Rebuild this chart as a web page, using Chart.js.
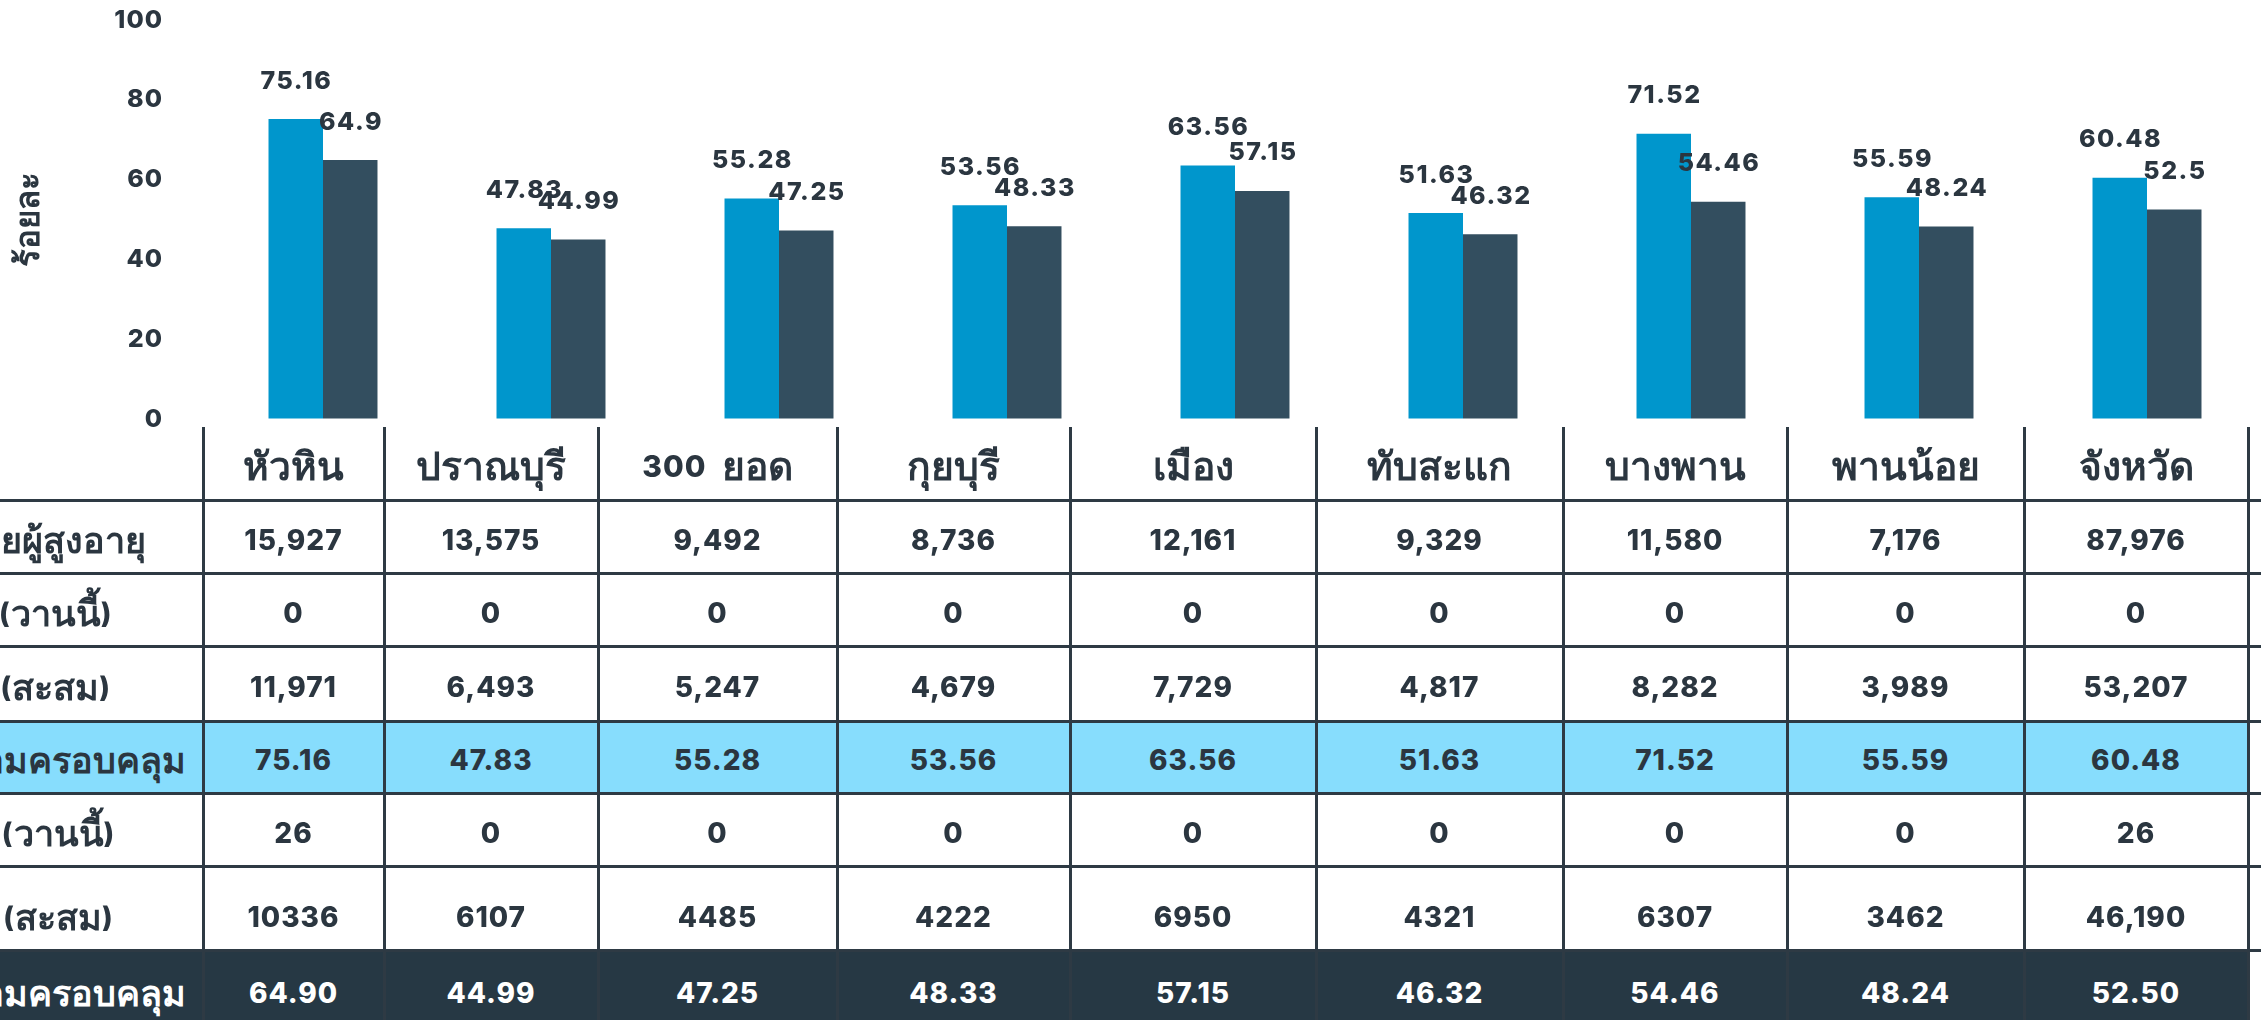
<!DOCTYPE html>
<html>
<head>
<meta charset="utf-8">
<script src="https://cdn.jsdelivr.net/npm/chart.js@4.4.1/dist/chart.umd.min.js"></script>
<style>
  html, body { margin: 0; padding: 0; background: #ffffff; width: 2261px; height: 1020px; overflow: hidden; position: relative; }
  #chartBox { position: absolute; left: 0; top: 0; width: 2261px; height: 434px; }
  #grid { position: absolute; left: 0; top: 0; width: 2261px; height: 1020px; pointer-events: none; }
  .cell { position: absolute; display: flex; align-items: center; justify-content: center; box-sizing: border-box;
          font-family: Inter, "Liberation Sans", sans-serif; font-weight: 800; font-size: 28px; letter-spacing: 1px;
          color: #2b3640; white-space: pre; line-height: 1; overflow: visible; }
  .th { font-size: 36px; letter-spacing: 0; font-weight: 700; }
  .cell.head { font-size: 30px; }
  .cell.head .th { font-size: 39px; }
  .vline { position: absolute; width: 3px; background: #2e3a44; }
  .hline { position: absolute; height: 3px; background: #2e3a44; }
</style>
</head>
<body>
<div id="chartBox"><canvas id="c" width="2261" height="434"></canvas></div>
<div id="grid"></div>
<script>
// Districts (also the table header)
const districts = ['หัวหิน', 'ปราณบุรี', '300  ยอด', 'กุยบุรี', 'เมือง', 'ทับสะแก', 'บางพาน', 'พานน้อย', 'จังหวัด'];

// Coverage percentages per district
const coverageDose1 = [75.16, 47.83, 55.28, 53.56, 63.56, 51.63, 71.52, 55.59, 60.48];
const coverageDose2 = [64.9, 44.99, 47.25, 48.33, 57.15, 46.32, 54.46, 48.24, 52.5];

// Y axis
const yTicks = [0, 20, 40, 60, 80, 100];
const yTitle = 'ร้อยละ';

// Table rows
const rowLabels = ['เป้าหมายผู้สูงอายุ', 'เข็ม 1 (วานนี้)', 'เข็ม 1 (สะสม)', 'ร้อยละความครอบคลุม',
                   'เข็ม 2 (วานนี้)', 'เข็ม 2 (สะสม)', 'ร้อยละความครอบคลุม'];
const targetElderly = ['15,927', '13,575', '9,492', '8,736', '12,161', '9,329', '11,580', '7,176', '87,976'];
const dose1Yesterday = ['0', '0', '0', '0', '0', '0', '0', '0', '0'];
const dose1Total = ['11,971', '6,493', '5,247', '4,679', '7,729', '4,817', '8,282', '3,989', '53,207'];
const dose2Yesterday = ['26', '0', '0', '0', '0', '0', '0', '0', '26'];
const dose2Total = ['10336', '6107', '4485', '4222', '6950', '4321', '6307', '3462', '46,190'];

const BLUE = '#0096cc';
const SLATE = '#334e5f';
const INK = '#2b3640';
const NUM_FONT = 'Inter, "Liberation Sans", sans-serif';

// Value labels above each bar
const barValueLabels = {
  id: 'barValueLabels',
  afterDatasetsDraw(chart) {
    const ctx = chart.ctx;
    const spacing = 1.5;
    ctx.save();
    ctx.font = '800 25px ' + NUM_FONT;
    ctx.letterSpacing = spacing + 'px';
    ctx.fillStyle = INK;
    ctx.textAlign = 'center';
    ctx.textBaseline = 'middle';
    chart.data.datasets.forEach((ds, i) => {
      chart.getDatasetMeta(i).data.forEach((bar, j) => {
        ctx.fillText(String(ds.data[j]), bar.x + spacing / 2, bar.y - 38);
      });
    });
    ctx.restore();
  }
};

// Slightly tracked tick numbers on the value axis
const trackedTicks = {
  id: 'trackedTicks',
  beforeDraw(chart) {
    const s = chart.scales.y;
    if (!s || s._tracked) return;
    const draw = s.drawLabels;
    s.drawLabels = function (area) {
      const ctx = this.ctx;
      ctx.save();
      ctx.letterSpacing = '1px';
      draw.call(this, area);
      ctx.restore();
    };
    s._tracked = true;
  }
};

new Chart(document.getElementById('c'), {
  type: 'bar',
  data: {
    labels: districts,
    datasets: [
      { data: coverageDose1, backgroundColor: BLUE, categoryPercentage: 0.478, barPercentage: 1.0 },
      { data: coverageDose2, backgroundColor: SLATE, categoryPercentage: 0.478, barPercentage: 1.0 }
    ]
  },
  options: {
    responsive: false,
    animation: false,
    devicePixelRatio: 1,
    layout: { padding: { top: 20, bottom: 0, left: 0, right: 0 } },
    plugins: { legend: { display: false }, tooltip: { enabled: false } },
    scales: {
      x: { display: false },
      y: {
        min: 0, max: 100,
        afterBuildTicks(scale) { scale.ticks = yTicks.map(v => ({ value: v })); },
        afterFit(scale) { scale.width = 209; },
        // invisible tick marks keep the labels away from the bars
        grid: { display: true, drawOnChartArea: false, drawTicks: true, tickLength: 46, color: 'rgba(0,0,0,0)' },
        border: { display: false },
        ticks: { padding: 0, color: INK, font: { family: NUM_FONT, size: 25, weight: 800 } },
        title: { display: true, text: yTitle, color: INK, padding: { top: 9, bottom: 0 },
                 font: { family: NUM_FONT, size: 33, weight: 'bold' } }
      }
    }
  },
  plugins: [trackedTicks, barValueLabels]
});

// Summary table under the bars
(function buildTable() {
  const grid = document.getElementById('grid');
  const colEdges = [-180, 203, 384, 598, 837, 1070, 1316, 1563, 1787, 2024, 2248];
  const rowEdges = [427, 500, 573, 646, 721, 793.5, 866, 950.6, 1032];
  const rows = [
    targetElderly, dose1Yesterday, dose1Total,
    coverageDose1.map(v => v.toFixed(2)),
    dose2Yesterday, dose2Total,
    coverageDose2.map(v => v.toFixed(2))
  ];
  const rowBg = [null, null, null, '#87ddfd', null, null, '#263844'];
  const rowInk = [INK, INK, INK, INK, INK, INK, '#ffffff'];
  const rowShift = [6, 6, 6, 6, 6, 18, 4];

  // Thai runs get their own size so they sit level with the digits
  function fillText(el, text) {
    text.split(/([\u0E00-\u0E7F]+)/).forEach(part => {
      if (!part) return;
      if (/[\u0E00-\u0E7F]/.test(part)) {
        const s = document.createElement('span');
        s.className = 'th';
        s.textContent = part;
        el.appendChild(s);
      } else {
        el.appendChild(document.createTextNode(part));
      }
    });
  }

  function cell(x0, x1, y0, y1, text, bg, ink, shift, extra) {
    const d = document.createElement('div');
    d.className = 'cell' + (extra ? ' ' + extra : '');
    d.style.left = x0 + 'px';
    d.style.width = (x1 - x0) + 'px';
    d.style.top = y0 + 'px';
    d.style.height = (y1 - y0) + 'px';
    d.style.paddingTop = shift + 'px';
    if (bg) d.style.background = bg;
    d.style.color = ink;
    fillText(d, text);
    grid.appendChild(d);
  }

  // header
  districts.forEach((name, j) => cell(colEdges[j + 1], colEdges[j + 2], rowEdges[0], rowEdges[1], name, null, INK, 4, 'head'));

  // body
  rows.forEach((vals, r) => {
    const y0 = rowEdges[r + 1], y1 = rowEdges[r + 2];
    cell(colEdges[0], colEdges[1], y0, y1, rowLabels[r], rowBg[r], rowInk[r], rowShift[r]);
    vals.forEach((v, j) => cell(colEdges[j + 1], colEdges[j + 2], y0, y1, v, rowBg[r], rowInk[r], rowShift[r]));
  });

  // rules
  for (let i = 1; i < colEdges.length; i++) {
    const v = document.createElement('div');
    v.className = 'vline';
    v.style.left = (colEdges[i] - 1.5) + 'px';
    v.style.top = rowEdges[0] + 'px';
    v.style.height = (1020 - rowEdges[0]) + 'px';
    grid.appendChild(v);
  }
  for (let i = 1; i < rowEdges.length - 1; i++) {
    const h = document.createElement('div');
    h.className = 'hline';
    h.style.left = '0px';
    h.style.width = '2261px';
    h.style.top = (rowEdges[i] - 1.5) + 'px';
    grid.appendChild(h);
  }
})();
</script>
</body>
</html>
